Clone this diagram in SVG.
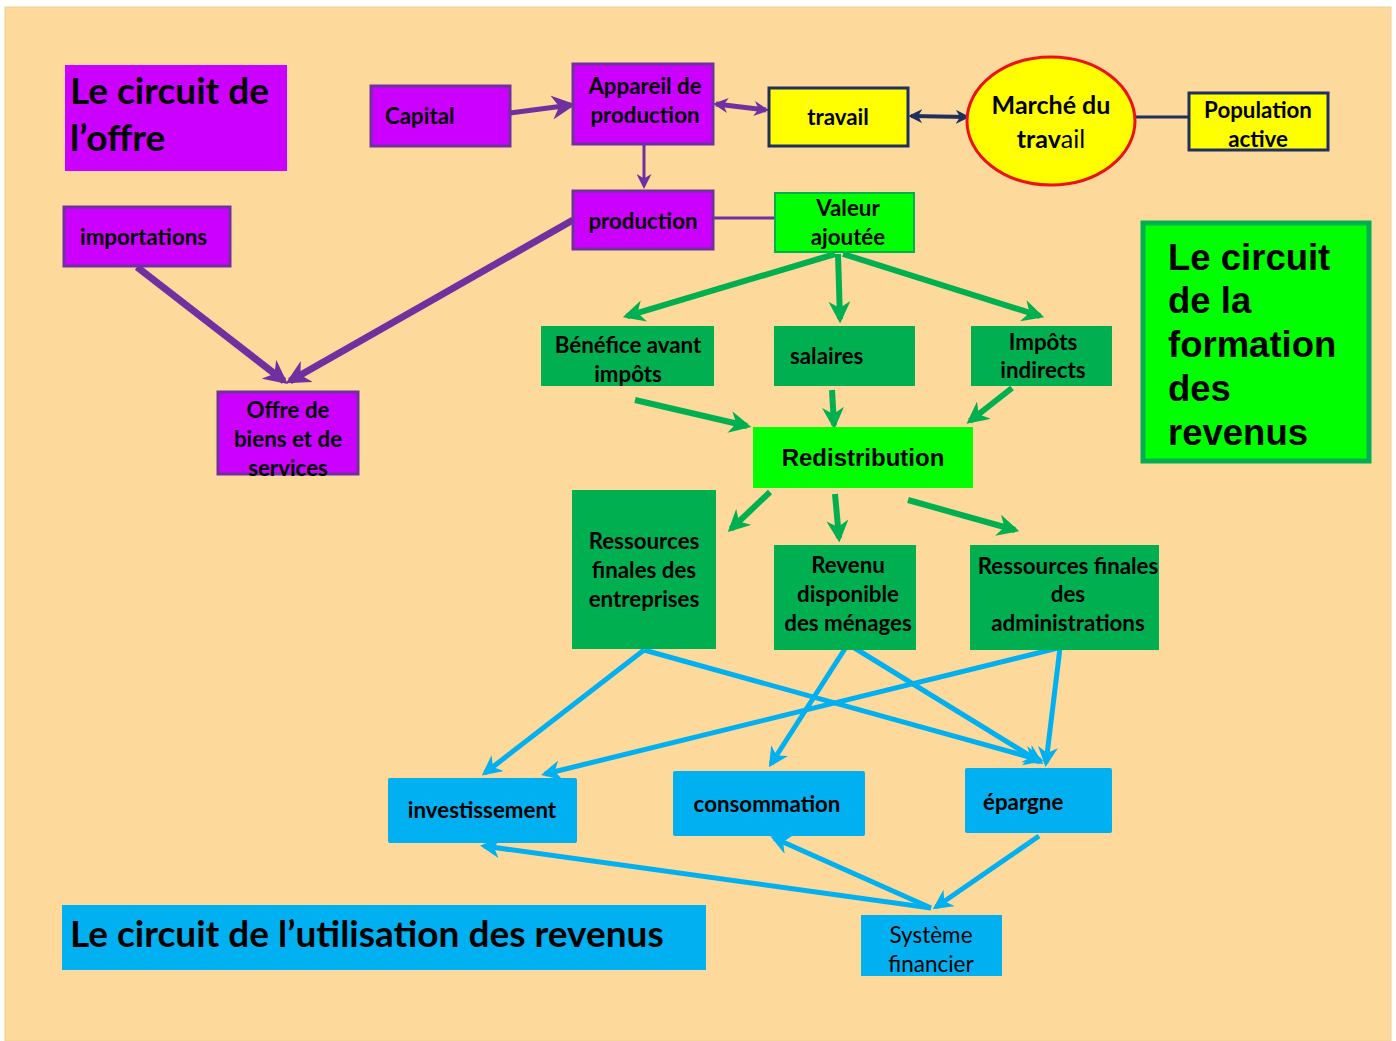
<svg xmlns="http://www.w3.org/2000/svg" width="1396" height="1041" viewBox="0 0 1396 1041">
<style>
.t{font-family:Lato,"Open Sans",sans-serif;font-weight:bold;fill:#000;font-size:22.3px;}
.a{font-family:"Liberation Sans",Arial,sans-serif;font-weight:bold;fill:#000;}
.n{font-family:Lato,"Open Sans",sans-serif;fill:#000;font-size:22.5px;}
.pu{fill:#CC00FF;stroke:#7030A0;stroke-width:3;}
.ye{fill:#FFFF00;stroke:#1F2F5F;stroke-width:3;}
.dg{fill:#00B050;}
.lg{fill:#00FF00;stroke:#00B050;stroke-width:2;}
.bl{fill:#00B0F0;}
.cp{stroke:#7030A0;fill:none;}
.cg{stroke:#00B050;stroke-width:6;fill:none;marker-end:url(#mg);}
.cb{stroke:#00B0F0;stroke-width:5;fill:none;marker-end:url(#mb);}
</style>
<defs>
<marker id="mp" viewBox="0 0 10 10" refX="8" refY="5" markerWidth="24" markerHeight="24" markerUnits="userSpaceOnUse" orient="auto"><path d="M0,0 L10,5 L0,10 L3,5 z" fill="#7030A0"/></marker>
<marker id="mps" viewBox="0 0 10 10" refX="8" refY="5" markerWidth="15" markerHeight="15" markerUnits="userSpaceOnUse" orient="auto-start-reverse"><path d="M0,0 L10,5 L0,10 L3,5 z" fill="#7030A0"/></marker>
<marker id="mn" viewBox="0 0 10 10" refX="8" refY="5" markerWidth="14" markerHeight="14" markerUnits="userSpaceOnUse" orient="auto-start-reverse"><path d="M0,0 L10,5 L0,10 L3,5 z" fill="#1F2F5F"/></marker>
<marker id="mg" viewBox="0 0 10 10" refX="8" refY="5" markerWidth="22" markerHeight="22" markerUnits="userSpaceOnUse" orient="auto"><path d="M0,0 L10,5 L0,10 L3,5 z" fill="#00B050"/></marker>
<marker id="mb" viewBox="0 0 10 10" refX="8" refY="5" markerWidth="20" markerHeight="20" markerUnits="userSpaceOnUse" orient="auto"><path d="M0,0 L10,5 L0,10 L3,5 z" fill="#00B0F0"/></marker>
</defs>
<rect x="0" y="0" width="1396" height="1041" fill="#FFFFFF"/>
<rect x="5" y="7" width="1386" height="1034" fill="#FDD99B" stroke="#F0D090" stroke-width="1"/>

<g id="connectors">
<line class="cp" x1="510" y1="113" x2="571" y2="105" stroke-width="5" marker-end="url(#mp)"/>
<line class="cp" x1="716" y1="104" x2="766" y2="110" stroke-width="5" marker-start="url(#mps)" marker-end="url(#mps)"/>
<line class="cp" x1="644" y1="144" x2="644" y2="186" stroke-width="3" marker-end="url(#mps)"/>
<line class="cp" x1="713" y1="218" x2="775" y2="218" stroke-width="3"/>
<line class="cp" x1="573" y1="220" x2="290" y2="381" stroke-width="7" marker-end="url(#mp)"/>
<line class="cp" x1="137" y1="267" x2="284" y2="381" stroke-width="7" marker-end="url(#mp)"/>
<line x1="911" y1="116" x2="967" y2="117" stroke="#1F2F5F" stroke-width="4" marker-start="url(#mn)" marker-end="url(#mn)"/>
<line x1="1135" y1="117" x2="1188" y2="117" stroke="#1F2F5F" stroke-width="3"/>
<line class="cg" x1="835" y1="254" x2="627" y2="316"/>
<line class="cg" x1="838" y1="254" x2="840" y2="319"/>
<line class="cg" x1="843" y1="254" x2="1040" y2="316"/>
<line class="cg" x1="635" y1="400" x2="747" y2="426"/>
<line class="cg" x1="832" y1="390" x2="834" y2="425"/>
<line class="cg" x1="1012" y1="388" x2="970" y2="421"/>
<line class="cg" x1="770" y1="492" x2="731" y2="529"/>
<line class="cg" x1="835" y1="494" x2="839" y2="538"/>
<line class="cg" x1="908" y1="500" x2="1015" y2="530"/>
<line class="cb" x1="644" y1="650" x2="485" y2="773"/>
<line class="cb" x1="644" y1="650" x2="1040" y2="760"/>
<line class="cb" x1="848" y1="644" x2="771" y2="764"/>
<line class="cb" x1="848" y1="644" x2="1040" y2="762"/>
<line class="cb" x1="1058" y1="648" x2="545" y2="774"/>
<line class="cb" x1="1060" y1="648" x2="1046" y2="763"/>
<line class="cb" x1="931" y1="908" x2="484" y2="846"/>
<line class="cb" x1="931" y1="908" x2="774" y2="838"/>
<line class="cb" x1="1039" y1="836" x2="936" y2="907"/>
</g>

<g id="titre-offre"><rect x="65" y="65" width="222" height="106" fill="#CC00FF"/>
<text class="t" x="70" y="104" style="font-size:37px">Le circuit de</text>
<text class="t" x="70" y="151" style="font-size:37px">l’offre</text></g>

<g id="capital"><rect class="pu" x="371" y="86" width="139" height="60"/>
<text class="t" x="385" y="124">Capital</text></g>

<g id="appareil"><rect class="pu" x="573" y="64" width="140" height="80"/>
<text class="t" x="645" y="94" text-anchor="middle">Appareil de</text>
<text class="t" x="645" y="123" text-anchor="middle">production</text></g>

<g id="travail"><rect class="ye" x="769" y="88" width="139" height="58"/>
<text class="t" x="838" y="125" text-anchor="middle">travail</text></g>

<g id="marche"><ellipse cx="1051" cy="121" rx="84" ry="64" fill="#FFFF00" stroke="#EE1111" stroke-width="3"/>
<text class="t" x="1051" y="114" text-anchor="middle" style="font-size:25px">Marché du</text>
<text class="t" x="1051" y="148" text-anchor="middle" style="font-size:25px">trav<tspan font-weight="normal">ail</tspan></text></g>

<g id="population"><rect class="ye" x="1189" y="93" width="139" height="57"/>
<text class="t" x="1258" y="118" text-anchor="middle">Population</text>
<text class="t" x="1258" y="147" text-anchor="middle">active</text></g>

<g id="production"><rect class="pu" x="573" y="191" width="140" height="58"/>
<text class="t" x="643" y="229" text-anchor="middle">production</text></g>

<g id="valeur"><rect class="lg" x="775" y="193" width="139" height="59"/>
<text class="t" x="848" y="216" text-anchor="middle">Valeur</text>
<text class="t" x="848" y="245" text-anchor="middle">ajoutée</text></g>

<g id="importations"><rect class="pu" x="64" y="207" width="166" height="59"/>
<text class="t" x="80" y="245">importations</text></g>

<g id="offre"><rect class="pu" x="218" y="392" width="140" height="82"/>
<text class="t" x="288" y="418" text-anchor="middle">Offre de</text>
<text class="t" x="288" y="447" text-anchor="middle">biens et de</text>
<text class="t" x="288" y="476" text-anchor="middle">services</text></g>

<g id="benefice"><rect class="dg" x="541" y="326" width="173" height="60"/>
<text class="t" x="628" y="353" text-anchor="middle">Bénéfice avant</text>
<text class="t" x="628" y="382" text-anchor="middle">impôts</text></g>

<g id="salaires"><rect class="dg" x="774" y="326" width="141" height="60"/>
<text class="t" x="790" y="364">salaires</text></g>

<g id="impots"><rect class="dg" x="971" y="326" width="141" height="60"/>
<text class="t" x="1043" y="350" text-anchor="middle">Impôts</text>
<text class="t" x="1043" y="378" text-anchor="middle">indirects</text></g>

<g id="redistribution"><rect x="753" y="427" width="220" height="61" fill="#00FF00"/>
<text class="a" x="863" y="466" font-size="24" text-anchor="middle">Redistribution</text></g>

<g id="rfe"><rect class="dg" x="572" y="490" width="144" height="159"/>
<text class="t" x="644" y="549" text-anchor="middle">Ressources</text>
<text class="t" x="644" y="578" text-anchor="middle">finales des</text>
<text class="t" x="644" y="607" text-anchor="middle">entreprises</text></g>

<g id="revenu"><rect class="dg" x="774" y="545" width="142" height="105"/>
<text class="t" x="848" y="573" text-anchor="middle">Revenu</text>
<text class="t" x="848" y="602" text-anchor="middle">disponible</text>
<text class="t" x="848" y="631" text-anchor="middle">des ménages</text></g>

<g id="rfa"><rect class="dg" x="970" y="545" width="189" height="105"/>
<text class="t" x="1068" y="574" text-anchor="middle">Ressources finales</text>
<text class="t" x="1068" y="602" text-anchor="middle">des</text>
<text class="t" x="1068" y="631" text-anchor="middle">administrations</text></g>

<g id="titre-formation"><rect x="1143" y="223" width="226" height="238" fill="#00FF00" stroke="#00B050" stroke-width="5"/>
<text class="a" x="1168" y="270" font-size="36.5">Le circuit</text>
<text class="a" x="1168" y="313" font-size="36.5">de la</text>
<text class="a" x="1168" y="357" font-size="36.5">formation</text>
<text class="a" x="1168" y="401" font-size="36.5">des</text>
<text class="a" x="1168" y="445" font-size="36.5">revenus</text></g>

<g id="investissement"><rect class="bl" x="388" y="778" width="189" height="65" rx="2"/>
<text class="t" x="482" y="818" text-anchor="middle">investissement</text></g>

<g id="consommation"><rect class="bl" x="673" y="771" width="192" height="65" rx="2"/>
<text class="t" x="767" y="812" text-anchor="middle">consommation</text></g>

<g id="epargne"><rect class="bl" x="965" y="768" width="147" height="65" rx="2"/>
<text class="t" x="983" y="810">épargne</text></g>

<g id="systeme"><rect class="bl" x="861" y="915" width="141" height="61"/>
<text class="n" x="931" y="943" text-anchor="middle">Système</text>
<text class="n" x="931" y="972" text-anchor="middle">financier</text></g>

<g id="titre-utilisation"><rect x="62" y="905" width="644" height="65" fill="#00B0F0"/>
<text class="t" x="70" y="947" style="font-size:37px">Le circuit de l’utilisation des revenus</text></g>
</svg>
